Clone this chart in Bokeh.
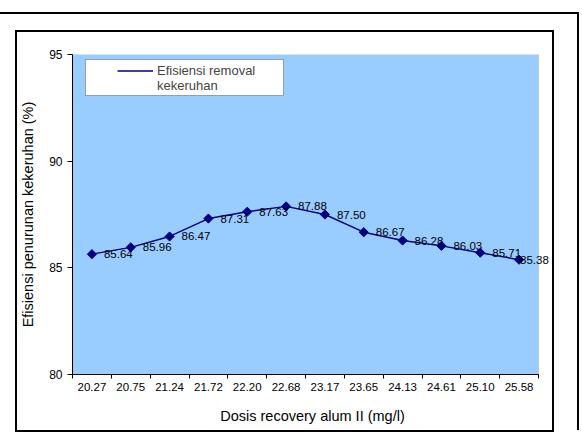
from bokeh.plotting import figure
from bokeh.layouts import column
from bokeh.models import (ColumnDataSource, Range1d, FixedTicker, LabelSet,
                          Legend, LegendItem, BoxAnnotation, Node)
from bokeh.core.properties import value
from bokeh.embed import file_html
from bokeh.resources import INLINE

# data
dosis = ["20.27", "20.75", "21.24", "21.72", "22.20", "22.68",
         "23.17", "23.65", "24.13", "24.61", "25.10", "25.58"]
efisiensi = [85.64, 85.96, 86.47, 87.31, 87.63, 87.88,
             87.50, 86.67, 86.28, 86.03, 85.71, 85.38]
y_ticks = [80, 85, 90, 95]
y_min, y_max = 80, 95

FONT = "Liberation Sans"
NAVY = "#000080"

n = len(dosis)
pos = [i + 0.5 for i in range(n)]
# last label is pulled back towards its point, as in the original
dx = [12] * (n - 1) + [1]
src = ColumnDataSource(dict(x=pos, y=efisiensi, txt=["%.2f" % v for v in efisiensi], dx=dx))

# the frame runs a little past the blue plot area so the last label is not cut
plot_w, frame_w = 466, 480
p = figure(width=535, height=398, output_backend="svg", toolbar_location=None,
           x_range=Range1d(0, n * frame_w / plot_w), y_range=Range1d(y_min, y_max),
           min_border_left=55, min_border_right=0,
           min_border_top=22, min_border_bottom=56)
p.background_fill_color = "white"
p.border_fill_color = "white"
p.outline_line_color = None
p.grid.visible = False

plot_area = BoxAnnotation(left=0, right=n, bottom=y_min, top=y_max, level="underlay",
                          fill_color="#99ccff", fill_alpha=1,
                          line_color="#808080", line_width=1)
p.add_layout(plot_area)

# x axis: labels at category centres, tick marks between categories
p.xaxis.bounds = (0, n)
p.xaxis.ticker = FixedTicker(ticks=pos, minor_ticks=list(range(n + 1)))
p.xaxis.major_label_overrides = {x: d for x, d in zip(pos, dosis)}
p.xaxis.major_tick_line_color = None
p.xaxis.major_tick_out = 4
p.xaxis.major_tick_in = 0
p.xaxis.minor_tick_line_color = "black"
p.xaxis.minor_tick_out = 4
p.xaxis.minor_tick_in = 0
p.xaxis.major_label_standoff = 4
p.xaxis.major_label_text_font = FONT
p.xaxis.major_label_text_font_size = "11.5px"
p.xaxis.axis_label = "Dosis recovery alum II (mg/l)"
p.xaxis.axis_label_standoff = 14

p.yaxis.ticker = FixedTicker(ticks=y_ticks)
p.yaxis.major_tick_out = 5
p.yaxis.major_tick_in = 0
p.yaxis.minor_tick_line_color = None
p.yaxis.major_label_standoff = 5
p.yaxis.major_label_text_font = FONT
p.yaxis.major_label_text_font_size = "12px"
p.yaxis.axis_label = "Efisiensi penurunan kekeruhan (%)"
p.yaxis.axis_label_standoff = 10

for ax in (p.xaxis, p.yaxis):
    ax.axis_line_color = "black"
    ax.major_label_text_color = "black"
    ax.axis_label_text_font = FONT
    ax.axis_label_text_font_size = "14.5px"
    ax.axis_label_text_font_style = "normal"
    ax.axis_label_text_color = "black"

r_line = p.line("x", "y", source=src, line_color=NAVY, line_width=1.4)
p.scatter("x", "y", source=src, marker="square", angle=0.7854, size=6.5,
          fill_color=NAVY, line_color=NAVY)
# empty renderer only used for the diamond in the legend
r_key = p.scatter(x=[], y=[], marker="diamond", size=10,
                  fill_color=NAVY, line_color=NAVY)

labels = LabelSet(x="x", y="y", text="txt", source=src, x_offset="dx",
                  text_baseline="middle", text_font=value(FONT),
                  text_font_size=value("11.5px"), text_color="black")
p.add_layout(labels)

# legend box
legend_box = BoxAnnotation(left=Node(target="frame", symbol="left", offset=13),
                           right=Node(target="frame", symbol="left", offset=211),
                           top=Node(target="frame", symbol="top", offset=5),
                           bottom=Node(target="frame", symbol="top", offset=41),
                           fill_color="white", fill_alpha=1,
                           line_color="black", line_width=1)
p.add_layout(legend_box)

legend = Legend(items=[LegendItem(label="Efisiensi removal", renderers=[r_line, r_key]),
                       LegendItem(label="kekeruhan", renderers=[])],
                location=(45, 281), padding=0, margin=0, spacing=0,
                border_line_color=None, background_fill_alpha=0,
                glyph_width=36, glyph_height=13, label_height=13, label_standoff=4,
                label_text_font=FONT, label_text_font_size="13px")
p.add_layout(legend)

# chart border (outline, so it takes no room) and page border
p.margin = (18, 0, 0, 17)
p.styles = {"outline": "2px solid black"}
page = column(p, width=579, margin=(12, 0, 0, 0),
              styles={"border-top": "2px solid black", "border-right": "2px solid black"})

open("out.html", "w").write(file_html(page, INLINE))
